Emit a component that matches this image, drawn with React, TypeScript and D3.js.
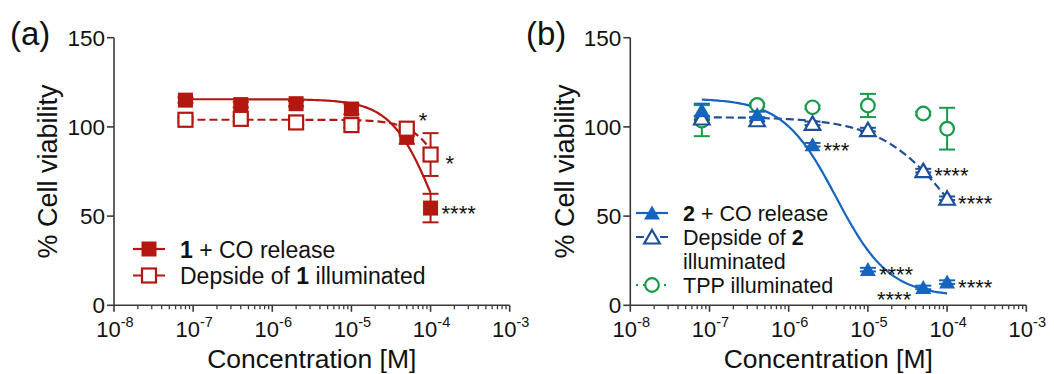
import React from "react";
import * as d3 from "d3";

// Concentrations tested (M)
const CONC = [8e-8, 4e-7, 2e-6, 1e-5, 5e-5, 1e-4];

// Panel (a): compound 1
const A_CO_MEAN = [115, 112.5, 113, 110, 94.5, 54.5];
const A_CO_ERR = [1.5, 1.5, 1.5, 3, 4, 8];
const A_DEP_MEAN = [104, 104.5, 102.5, 101, 99, 84.5];
const A_DEP_ERR = [1.5, 1.5, 1.5, 1.5, 2, 12];

// Panel (b): compound 2 and TPP
const B_CO_MEAN = [109.5, 107, 90, 20, 10, 13];
const B_CO_ERR = [3.5, 1.5, 1, 1, 1, 1];
const B_DEP_MEAN = [105, 104, 102, 98.5, 75.5, 60];
const B_DEP_ERR = [1, 1, 1, 1, 1, 1];
const B_TPP_MEAN = [103.5, 112.3, 111, 112, 107.5, 99];
const B_TPP_ERR = [8.7, 1, 1, 6.5, 1, 11.7];

// Four-parameter logistic fits
const A_CO_FIT = { top: 115.5, bottom: 0, logEC50: -3.95, hill: 1.6 };
const A_DEP_FIT = { top: 104, bottom: 0, logEC50: -3.645, hill: 2 };
const B_CO_FIT = { top: 116, bottom: 5, logEC50: -5.4, hill: 1.3 };
const B_DEP_FIT = { top: 105.5, bottom: 0, logEC50: -3.87, hill: 0.92 };

// Significance marks (index into CONC)
const A_CO_SIG = [{ i: 5, text: "****", place: "right" }];
const A_DEP_SIG = [
  { i: 4, text: "*", place: "upper" },
  { i: 5, text: "*", place: "right" },
];
const B_CO_SIG = [
  { i: 2, text: "***", place: "right" },
  { i: 3, text: "****", place: "right" },
  { i: 4, text: "****", place: "lowerLeft" },
  { i: 5, text: "****", place: "right" },
];
const B_DEP_SIG = [
  { i: 4, text: "****", place: "right" },
  { i: 5, text: "****", place: "right" },
];

const Y_TICKS = [0, 50, 100, 150];
const X_DECADES = [-8, -7, -6, -5, -4, -3];

const FONT = "'Liberation Sans', Arial, Helvetica, sans-serif";
const RED = "#b3170f";
const BLUE = "#1565c0";
const NAVY = "#1f4f99";
const GREEN = "#199a4a";
const AXIS = "#3a3a3a";
const INK = "#111";

type Fit = { top: number; bottom: number; logEC50: number; hill: number };

function logistic(f: Fit, x: number) {
  return f.bottom + (f.top - f.bottom) / (1 + Math.pow(10, (Math.log10(x) - f.logEC50) * f.hill));
}

type Scales = { x: d3.ScaleLogarithmic<number, number>; y: d3.ScaleLinear<number, number> };

function Axes({ x, y }: Scales) {
  const [x0, x1] = x.range();
  const y0 = y(0);
  const minors: number[] = [];
  for (let e = -8; e < -3; e++) for (let m = 2; m <= 9; m++) minors.push(m * Math.pow(10, e));
  return (
    <g>
      <line x1={x0} x2={x0} y1={y(0)} y2={y(150)} stroke={AXIS} strokeWidth={1.6} />
      <line x1={x0} x2={x1} y1={y0} y2={y0} stroke={AXIS} strokeWidth={1.6} />
      {Y_TICKS.map((t) => (
        <g key={t}>
          <line x1={x0 - 7} x2={x0} y1={y(t)} y2={y(t)} stroke={AXIS} strokeWidth={1.6} />
          <text x={x0 - 9} y={y(t) + 8} textAnchor="end" fontSize={22.5} fill={INK}>
            {t}
          </text>
        </g>
      ))}
      {minors.map((m) => (
        <line key={m} x1={x(m)} x2={x(m)} y1={y0} y2={y0 + 4} stroke={AXIS} strokeWidth={1.3} />
      ))}
      {X_DECADES.map((e) => {
        const px = x(Math.pow(10, e));
        return (
          <g key={e}>
            <line x1={px} x2={px} y1={y0} y2={y0 + 6.5} stroke={AXIS} strokeWidth={1.6} />
            <text x={px + 1} y={336.5} textAnchor="middle" fontSize={22} fill={INK}>
              <tspan>10</tspan>
              <tspan dy={-9.5} fontSize={14.5}>{`-${-e}`}</tspan>
            </text>
          </g>
        );
      })}
    </g>
  );
}

function ErrorBars({ x, y, mean, err, color }: Scales & { mean: number[]; err: number[]; color: string }) {
  return (
    <g stroke={color} strokeWidth={2}>
      {CONC.map((c, i) => {
        const px = x(c);
        const hi = y(mean[i] + err[i]);
        const lo = y(mean[i] - err[i]);
        return (
          <g key={i}>
            <line x1={px} x2={px} y1={hi} y2={lo} />
            <line x1={px - 8} x2={px + 8} y1={hi} y2={hi} />
            <line x1={px - 8} x2={px + 8} y1={lo} y2={lo} />
          </g>
        );
      })}
    </g>
  );
}

function FitCurve({ x, y, fit, color, dash }: Scales & { fit: Fit; color: string; dash?: string }) {
  const lo = Math.log10(CONC[0]);
  const hi = Math.log10(CONC[CONC.length - 1]);
  const samples = d3.range(0, 121).map((k) => Math.pow(10, lo + ((hi - lo) * k) / 120));
  const path = d3
    .line<number>()
    .x((c) => x(c))
    .y((c) => y(logistic(fit, c)))(samples);
  return <path d={path ?? ""} fill="none" stroke={color} strokeWidth={2.2} strokeDasharray={dash} />;
}

type Shape = "square" | "openSquare" | "triangle" | "openTriangle" | "openCircle";

function Marker({ shape, cx, cy, color }: { shape: Shape; cx: number; cy: number; color: string }) {
  switch (shape) {
    case "square":
      return <rect x={cx - 7.5} y={cy - 7.5} width={15} height={15} fill={color} />;
    case "openSquare":
      return <rect x={cx - 7} y={cy - 7} width={14} height={14} fill="#fff" stroke={color} strokeWidth={2.2} />;
    case "triangle":
      return <path d={`M${cx},${cy - 7.5}L${cx + 8},${cy + 6.5}L${cx - 8},${cy + 6.5}Z`} fill={color} />;
    case "openTriangle":
      return (
        <path
          d={`M${cx},${cy - 7}L${cx + 7.8},${cy + 6.5}L${cx - 7.8},${cy + 6.5}Z`}
          fill="#fff"
          stroke={color}
          strokeWidth={2.2}
          strokeLinejoin="miter"
        />
      );
    case "openCircle":
      return <circle cx={cx} cy={cy} r={6.8} fill="#fff" stroke={color} strokeWidth={2.2} />;
  }
}

function Points({ x, y, mean, shape, color }: Scales & { mean: number[]; shape: Shape; color: string }) {
  return (
    <g>
      {CONC.map((c, i) => (
        <Marker key={i} shape={shape} cx={x(c)} cy={y(mean[i])} color={color} />
      ))}
    </g>
  );
}

function Stars({ x, y, mean, marks }: Scales & { mean: number[]; marks: { i: number; text: string; place: string }[] }) {
  const fs = 22;
  return (
    <g>
      {marks.map((m, k) => {
        const px = x(CONC[m.i]);
        const py = y(mean[m.i]);
        let tx = px + 11;
        let ty = py;
        let anchor: "start" | "end" = "start";
        if (m.place === "upper") {
          tx = px + 12;
          ty = py - 13;
        } else if (m.place === "lowerLeft") {
          tx = px - 12;
          ty = py + 6.5;
          anchor = "end";
        } else if (m.text === "*") {
          tx = px + 15;
          ty = py + 4;
        }
        return (
          <text key={k} x={tx} y={ty + 0.58 * fs} textAnchor={anchor} fontSize={fs} fill={INK}>
            {m.text}
          </text>
        );
      })}
    </g>
  );
}

function LegendRow({
  x,
  y,
  shape,
  color,
  dash,
  children,
  fs,
  textX,
}: {
  x: number;
  y: number;
  shape: Shape;
  color: string;
  dash?: string;
  children: React.ReactNode;
  fs: number;
  textX: number;
}) {
  return (
    <g>
      <line x1={x - 16} x2={x + 16} y1={y} y2={y} stroke={color} strokeWidth={2.2} strokeDasharray={dash} />
      <Marker shape={shape} cx={x} cy={y} color={color} />
      <text x={textX} y={y + 0.36 * fs + 0.5} fontSize={fs} fill={INK}>
        {children}
      </text>
    </g>
  );
}

function YTitle({ x, y }: { x: number; y: number }) {
  return (
    <text transform={`translate(${x},${y}) rotate(-90)`} textAnchor="middle" fontSize={27} fill={INK}>
      % Cell viability
    </text>
  );
}

export default function App() {
  const yScale = d3.scaleLinear().domain([0, 150]).range([305.3, 37.7]);
  const xA = d3.scaleLog().domain([1e-8, 1e-3]).range([114, 509.7]);
  const xB = d3.scaleLog().domain([1e-8, 1e-3]).range([630.3, 1026.3]);
  const A = { x: xA, y: yScale };
  const B = { x: xB, y: yScale };

  return (
    <svg
      width={1054}
      height={374}
      style={{ position: "absolute", left: 0, top: 0, background: "#fff" }}
      fontFamily={FONT}
    >
      {/* Panel (a) */}
      <text x={10} y={45} fontSize={33} fill={INK}>(a)</text>
      <Axes {...A} />
      <YTitle x={57} y={171.5} />
      <text x={311.8} y={368} textAnchor="middle" fontSize={26.5} fill={INK}>Concentration [M]</text>
      <FitCurve {...A} fit={A_DEP_FIT} color={RED} dash="8,4" />
      <FitCurve {...A} fit={A_CO_FIT} color={RED} />
      <ErrorBars {...A} mean={A_CO_MEAN} err={A_CO_ERR} color={RED} />
      <ErrorBars {...A} mean={A_DEP_MEAN} err={A_DEP_ERR} color={RED} />
      <Points {...A} mean={A_CO_MEAN} shape="square" color={RED} />
      <Points {...A} mean={A_DEP_MEAN} shape="openSquare" color={RED} />
      <Stars {...A} mean={A_CO_MEAN} marks={A_CO_SIG} />
      <Stars {...A} mean={A_DEP_MEAN} marks={A_DEP_SIG} />
      <LegendRow x={149} y={249} shape="square" color={RED} fs={23} textX={180}>
        <tspan fontWeight="bold">1</tspan> + CO release
      </LegendRow>
      <LegendRow x={149} y={275.5} shape="openSquare" color={RED} dash="8,4" fs={23} textX={180}>
        Depside of <tspan fontWeight="bold">1</tspan> illuminated
      </LegendRow>

      {/* Panel (b) */}
      <text x={526} y={45} fontSize={33} fill={INK}>(b)</text>
      <Axes {...B} />
      <YTitle x={574} y={171.5} />
      <text x={828.3} y={368} textAnchor="middle" fontSize={26.5} fill={INK}>Concentration [M]</text>
      <FitCurve {...B} fit={B_DEP_FIT} color={NAVY} dash="8,4" />
      <FitCurve {...B} fit={B_CO_FIT} color={BLUE} />
      <ErrorBars {...B} mean={B_TPP_MEAN} err={B_TPP_ERR} color={GREEN} />
      <Points {...B} mean={B_TPP_MEAN} shape="openCircle" color={GREEN} />
      <ErrorBars {...B} mean={B_DEP_MEAN} err={B_DEP_ERR} color={NAVY} />
      <Points {...B} mean={B_DEP_MEAN} shape="openTriangle" color={NAVY} />
      <ErrorBars {...B} mean={B_CO_MEAN} err={B_CO_ERR} color={BLUE} />
      <Points {...B} mean={B_CO_MEAN} shape="triangle" color={BLUE} />
      <Stars {...B} mean={B_CO_MEAN} marks={B_CO_SIG} />
      <Stars {...B} mean={B_DEP_MEAN} marks={B_DEP_SIG} />
      <LegendRow x={652} y={213} shape="triangle" color={BLUE} fs={21.5} textX={683}>
        <tspan fontWeight="bold">2</tspan> + CO release
      </LegendRow>
      <LegendRow x={652} y={237} shape="openTriangle" color={NAVY} dash="8,4" fs={21.5} textX={683}>
        Depside of <tspan fontWeight="bold">2</tspan>
      </LegendRow>
      <text x={683} y={268.5} fontSize={21.5} fill={INK}>illuminated</text>
      <LegendRow x={652} y={285} shape="openCircle" color={GREEN} dash="2,5" fs={21.5} textX={683}>
        TPP illuminated
      </LegendRow>
    </svg>
  );
}
